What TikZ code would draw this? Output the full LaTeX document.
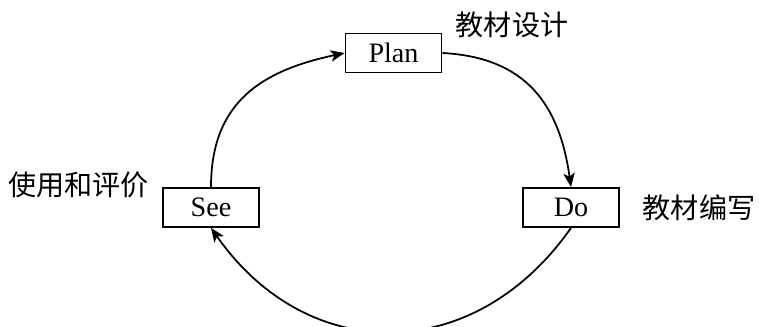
\documentclass[tikz,border=0pt]{standalone}
\usepackage{fontspec}
\usepackage{tikz}
\usetikzlibrary{arrows.meta}
\newfontfamily\cjk{Noto Sans CJK SC}
\newfontfamily\boxfont{Liberation Serif}

\begin{document}
\begin{tikzpicture}[x=0.02cm, y=0.02cm,
		stage/.style={draw, line width=1pt, minimum width=1.92cm, minimum height=0.78cm, inner sep=0pt, font=\boxfont\fontsize{16}{18}\selectfont},
		note/.style={font=\cjk\fontsize{16}{18}\selectfont},
		flow/.style={-{Stealth[length=8pt, width=6.5pt, inset=2pt]}, line width=1pt}]
		\useasboundingbox (0,0) rectangle (759,327);

		\node[stage] (plan) at (393.5,274) {Plan};
		\node[stage] (do) at (571,119.5) {Do};
		\node[stage] (see) at (211,119.5) {See};

		\node[note] (plantext) at (512,302) {教材设计};
		\node[note] (dotext) at (699,119.5) {教材编写};
		\node[note] (seetext) at (78.5,142) {使用和评价};

		\draw[flow] (see.north) to[out=90, in=192, looseness=1.15] (plan.west);
		\draw[flow] (plan.east) to[out=-3, in=98, looseness=1.15] (do.north);
		\draw[flow] (do.south) to[out=-125, in=-55, looseness=1.2] (see.south);
	\end{tikzpicture}
\end{document}
